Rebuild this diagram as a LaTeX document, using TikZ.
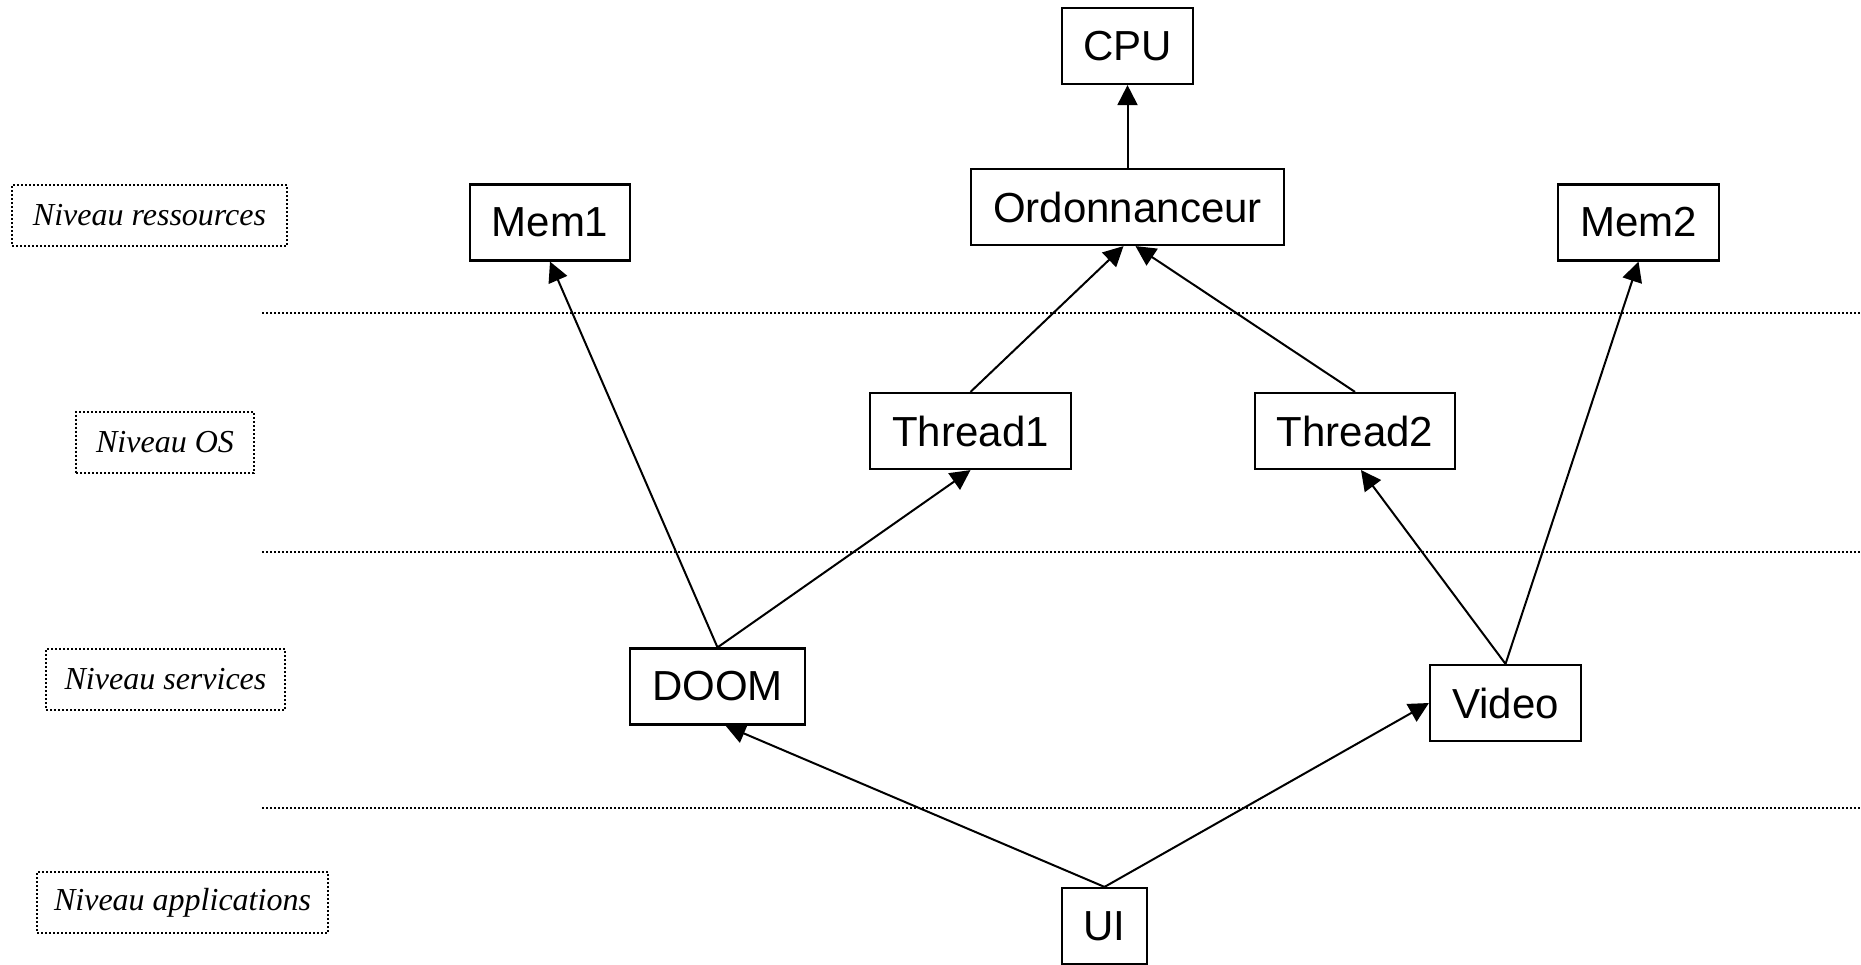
\documentclass[tikz,border=0pt]{standalone}
\usepackage{fontspec}
\setmainfont{Liberation Serif}
\setsansfont{Liberation Sans}
\usetikzlibrary{arrows.meta}

\begin{document}
\begin{tikzpicture}[x=0.5pt,y=-0.5pt,>={Triangle[length=10pt,width=10pt]},
  bloc/.style={draw,line width=1.1pt,minimum height=38pt,inner sep=0pt,font=\sffamily\fontsize{21}{21}\selectfont},
  niveau/.style={draw,densely dotted,line width=1pt,minimum height=30.5pt,inner sep=0pt,font=\itshape\fontsize{16}{16}\selectfont},
  fleche/.style={->,line width=1pt}]
\useasboundingbox (0,0) rectangle (1861,964);
% niveaux
\node[niveau,minimum width=137.5pt] (nres) at (149.5,215.5) {Niveau ressources};
\node[niveau,minimum width=89pt] (nos) at (165,442) {Niveau OS};
\node[niveau,minimum width=119.5pt] (nserv) at (165.5,679.5) {Niveau services};
\node[niveau,minimum width=145.5pt] (napp) at (182.5,902.5) {Niveau applications};
\draw[densely dotted,line width=1pt] (262,313) -- (1861,313);
\draw[densely dotted,line width=1pt] (262,552) -- (1861,552);
\draw[densely dotted,line width=1pt] (262,808) -- (1861,808);
% blocs
\node[bloc,minimum width=65.5pt] (cpu) at (1127.5,46) {CPU};
\node[bloc,minimum width=156.5pt] (ord) at (1127.5,207) {Ordonnanceur};
\node[bloc,minimum width=80pt] (mem1) at (550,222.5) {Mem1};
\node[bloc,minimum width=80.5pt] (mem2) at (1638.5,222.5) {Mem2};
\node[bloc,minimum width=100.5pt] (th1) at (970.5,431) {Thread1};
\node[bloc,minimum width=100pt] (th2) at (1355,431) {Thread2};
\node[bloc,minimum width=87.5pt] (doom) at (717.5,686.5) {DOOM};
\node[bloc,minimum width=75.5pt] (video) at (1505.5,703) {Video};
\node[bloc,minimum width=42.5pt] (ui) at (1104.5,926) {UI};
% dependances
\draw[fleche] (ord.north) -- (cpu.south);
\draw[fleche] (th1.north) -- ([xshift=-2pt]ord.south);
\draw[fleche] (th2.north) -- ([xshift=4pt]ord.south);
\draw[fleche] (doom.north) -- (mem1.south);
\draw[fleche] (doom.north) -- (th1.south);
\draw[fleche] (video.north) -- ([xshift=3pt]th2.south);
\draw[fleche] (video.north) -- (mem2.south);
\draw[fleche] (ui.north) -- ([xshift=4pt]doom.south);
\draw[fleche] (ui.north) -- (video.west);
\end{tikzpicture}
\end{document}
